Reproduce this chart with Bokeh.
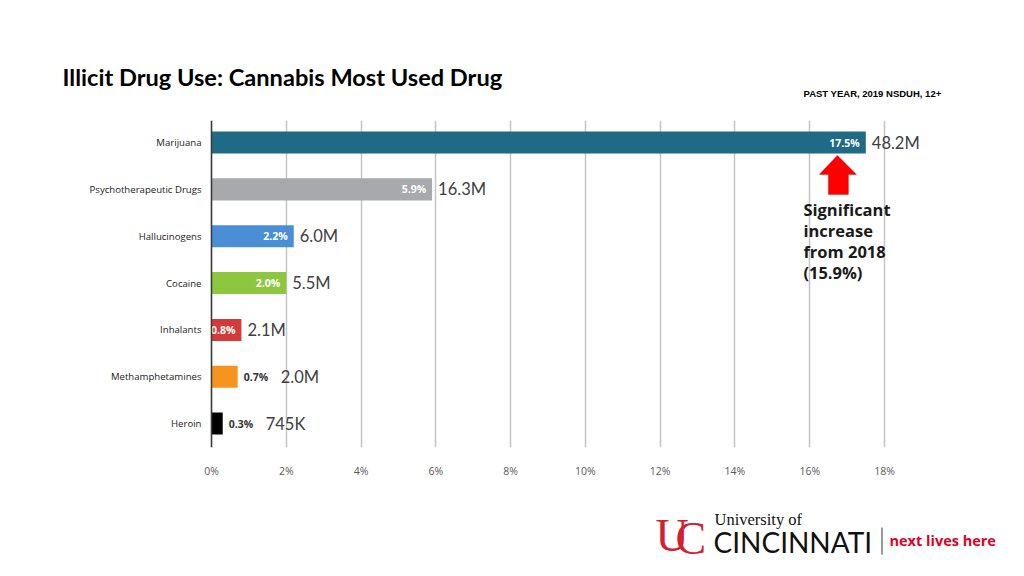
from bokeh.plotting import figure
from bokeh.layouts import column
from bokeh.models import Range1d, FixedTicker, PolyAnnotation, ColumnDataSource, Span
from bokeh.core.properties import value
from bokeh.embed import file_html
from bokeh.resources import INLINE

# ---- data ----
drugs = ["Marijuana", "Psychotherapeutic Drugs", "Hallucinogens", "Cocaine",
         "Inhalants", "Methamphetamines", "Heroin"]
pct = [17.5, 5.9, 2.2, 2.0, 0.8, 0.7, 0.3]
pct_labels = ["17.5%", "5.9%", "2.2%", "2.0%", "0.8%", "0.7%", "0.3%"]
counts = ["48.2M", "16.3M", "6.0M", "5.5M", "2.1M", "2.0M", "745K"]
colors = ["#1f6a85", "#a7a9ac", "#4a8fd6", "#8dc63f", "#d33b3b", "#f7941d", "#000000"]
inside = [True, True, True, True, True, False, False]
x_ticks = [0, 2, 4, 6, 8, 10, 12, 14, 16, 18]

title_text = "Illicit Drug Use: Cannabis Most Used Drug"
subtitle_text = "PAST YEAR, 2019 NSDUH, 12+"
note_lines = ["Significant", "increase", "from 2018", "(15.9%)"]

W = 1024
UC_RED = "#e00122"


def blank(height, y0, y1):
    f = figure(width=W, height=height, output_backend="svg", toolbar_location=None,
               x_range=Range1d(0, W), y_range=Range1d(y1, y0),
               x_axis_location=None, y_axis_location=None,
               min_border=0, min_border_left=0, min_border_right=0,
               min_border_top=0, min_border_bottom=0)
    f.grid.visible = False
    f.outline_line_color = None
    return f


# ---------- top strip: title ----------
top = blank(120, 0, 120)
top.text(x=[62], y=[76], text=[title_text], text_font=value("Lato"), text_font_style="bold",
         text_font_size="23.6px", text_color="#000000", text_baseline="middle")
top.text(x=[803], y=[93], text=[subtitle_text], text_font=value("Liberation Sans"),
         text_font_style="bold", text_font_size="9.5px", text_color="#000000",
         text_baseline="middle")

# ---------- chart ----------
X0 = 211                      # pixel of 0 %
PPX = (884 - 211) / 18.0      # pixels per percent
FRAME_H = 327
p = figure(width=W, height=FRAME_H + 33, output_backend="svg", toolbar_location=None,
           x_range=Range1d(-X0 / PPX, (W - X0) / PPX), y_range=Range1d(6.51, -0.47),
           y_axis_location=None,
           min_border_left=0, min_border_right=0, min_border_top=0, min_border_bottom=33)
p.outline_line_color = None
PPY = FRAME_H / (6.51 + 0.47)

ys = list(range(len(drugs)))
src = ColumnDataSource(dict(y=ys, v=pct, c=colors, name=drugs))

p.ygrid.grid_line_color = None
p.xgrid.ticker = FixedTicker(ticks=x_ticks)
p.xgrid.grid_line_color = "#c4c4c4"
p.xgrid.grid_line_width = 1.5

p.hbar(y="y", left=0, right="v", height=0.47, fill_color="c", line_color=None, source=src)

xa = p.xaxis[0]
xa.ticker = FixedTicker(ticks=x_ticks)
xa.major_label_overrides = {t: f"{t}%" for t in x_ticks}
xa.axis_line_color = None
xa.major_tick_line_color = None
xa.minor_tick_line_color = None
xa.major_label_standoff = 10
xa.major_label_text_font = "Open Sans"
xa.major_label_text_font_size = "10.5px"
xa.major_label_text_color = "#595959"

# category axis: line at 0 % and labels to its left
p.add_layout(Span(location=0, dimension="height", line_color="#3a3a3a", line_width=1.5))
p.text(x=0, y="y", text="name", source=src, x_offset=-10, text_align="right",
       text_baseline="middle", text_color="#222222", text_font=value("Open Sans"),
       text_font_size="9.6px")

in_idx = [i for i in ys if inside[i]]
out_idx = [i for i in ys if not inside[i]]
src_in = ColumnDataSource(dict(y=[ys[i] for i in in_idx], v=[pct[i] for i in in_idx],
                               t=[pct_labels[i] for i in in_idx]))
src_out = ColumnDataSource(dict(y=[ys[i] for i in out_idx], v=[pct[i] for i in out_idx],
                                t=[pct_labels[i] for i in out_idx]))
p.text(x="v", y="y", text="t", source=src_in, x_offset=-6, text_align="right",
       text_baseline="middle", text_color="white", text_font=value("Open Sans"),
       text_font_style="bold", text_font_size="10.5px")
p.text(x="v", y="y", text="t", source=src_out, x_offset=6, text_align="left",
       text_baseline="middle", text_color="#333333", text_font=value("Open Sans"),
       text_font_style="bold", text_font_size="10.5px")
src_cnt = ColumnDataSource(dict(y=ys, v=pct, t=counts,
                                off=[6 if inside[i] else 43 for i in ys]))
p.text(x="v", y="y", text="t", source=src_cnt, x_offset="off", text_align="left",
       text_baseline="middle", text_color="#404040", text_font=value("Lato"),
       text_font_size="16.5px")

# arrow pointing at the marijuana bar end
tipx = pct[0] - 0.76


def ax(dpx):
    return tipx + dpx / PPX


def ay(dpx):
    return ys[0] + (13 + dpx) / PPY


arrow = PolyAnnotation(
    xs=[ax(0), ax(19), ax(11), ax(11), ax(-9), ax(-9), ax(-18)],
    ys=[ay(0), ay(19), ay(19), ay(39), ay(39), ay(19), ay(19)],
    fill_color="#ff0000", fill_alpha=1.0, line_color="#9b0000", line_width=1.2)
p.add_layout(arrow)

note_x = [tipx - 34 / PPX] * len(note_lines)
note_y = [ys[0] + (67 + 21 * k) / PPY for k in range(len(note_lines))]
p.text(x=note_x, y=note_y, text=note_lines, text_font=value("Open Sans"),
       text_font_style="bold", text_font_size="16.5px", text_color="#1a1a1a",
       text_baseline="middle")

# ---------- bottom strip: logo ----------
bot = blank(94, 480, 574)
bot.text(x=[655], y=[535], text=["U"], text_font=value("Liberation Serif"),
         text_font_size="46px", text_color="#d2202f", text_baseline="middle")
bot.text(x=[675], y=[538], text=["C"], text_font=value("Liberation Serif"),
         text_font_size="46px", text_color="#d2202f", text_baseline="middle")
bot.text(x=[714], y=[519], text=["University of"], text_font=value("Liberation Serif"),
         text_font_size="16.5px", text_color="#111111", text_baseline="middle")
bot.text(x=[713], y=[541], text=["CINCINNATI"], text_font=value("Lato"),
         text_font_size="28px", text_color="#111111", text_baseline="middle")
bot.segment(x0=[881.5], y0=[527], x1=[881.5], y1=[554], line_color="#333333", line_width=1)
bot.text(x=[889], y=[540], text=["next lives here"], text_font=value("Open Sans"),
         text_font_style="bold", text_font_size="14.5px", text_color=UC_RED,
         text_baseline="middle")

layout = column(top, p, bot, spacing=0)
open("out.html", "w").write(file_html(layout, INLINE))
